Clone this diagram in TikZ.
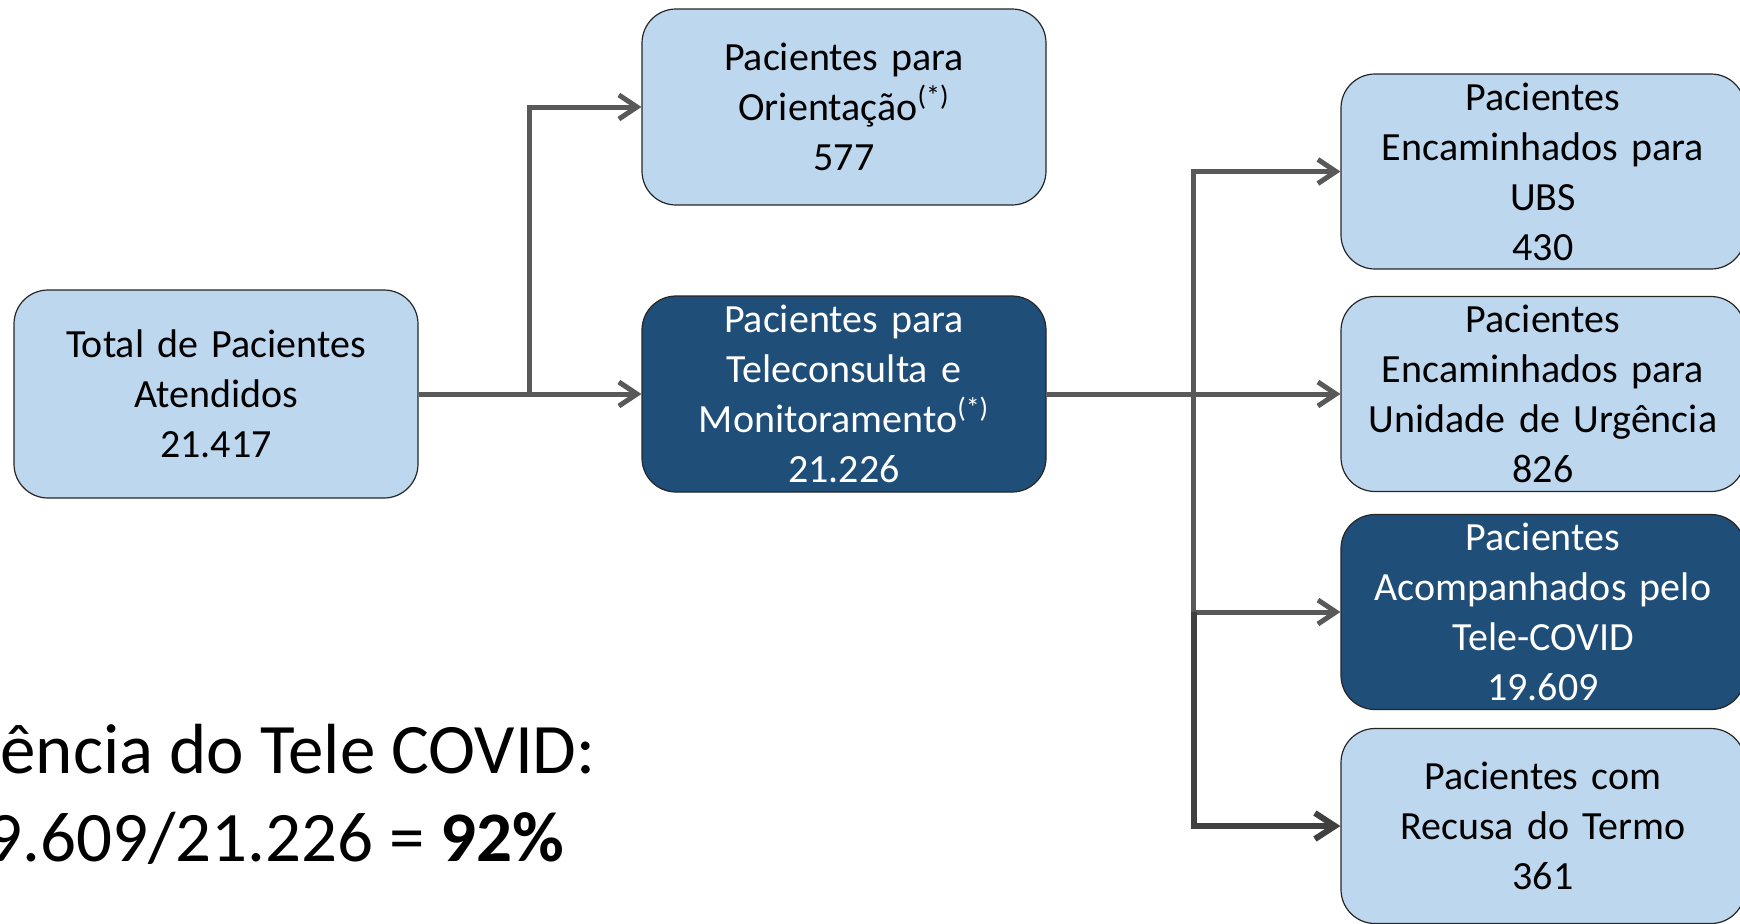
\documentclass[tikz,border=0pt]{standalone}
\usepackage{fontspec}
\setmainfont{Carlito}
\usetikzlibrary{arrows.meta}
\definecolor{lightbox}{HTML}{BDD7EE}
\definecolor{darkbox}{HTML}{1F4E79}
\definecolor{conn}{HTML}{595959}
\definecolor{connd}{HTML}{404040}
\tikzset{
  box/.style={rounded corners=17pt, draw=black!85, line width=0.6pt, align=center,
    text width=195pt, minimum width=202pt, inner sep=0pt,
    font=\fontsize{20pt}{25pt}\selectfont},
  lightb/.style={box, fill=lightbox, text=black},
  darkb/.style={box, fill=darkbox, text=white},
  link/.style={draw=conn, line width=2.5pt},
  arr/.style={link, -{Straight Barb[length=9pt,width=12pt]}},
  arrd/.style={draw=connd, line width=3pt, -{Straight Barb[length=10pt,width=13pt]}},
  big/.style={inner sep=0pt, font=\fontsize{35.5pt}{44pt}\selectfont}
}
\begin{document}
\begin{tikzpicture}[x=0.5pt,y=-0.5pt]
\useasboundingbox (0,0) rectangle (1740,923);
% left and middle boxes
\node[lightb, minimum height=104pt] (tot) at (216,394) {Total de Pacientes\\Atendidos\\21.417};
\node[lightb, minimum height=98pt] (ori) at (844,107) {Pacientes para\\Orienta\c{c}\~ao\textsuperscript{(*)}\\577};
\node[darkb, minimum height=98pt] (tel) at (844,394) {Pacientes para\\Teleconsulta e\\Monitoramento\textsuperscript{(*)}\\21.226};
% right boxes
\node[lightb, minimum height=97.5pt] (ubs) at (1543,171.5) {Pacientes\\Encaminhados para\\UBS\\430};
\node[lightb, minimum height=97.5pt] (urg) at (1543,394) {Pacientes\\Encaminhados para\\Unidade de Urg\^encia\\826};
\node[darkb, minimum height=97.5pt] (aco) at (1543,612) {Pacientes\\Acompanhados pelo\\Tele-COVID\\19.609};
\node[lightb, minimum height=97.5pt] (rec) at (1543,826) {Pacientes com\\Recusa do Termo\\361};
% connectors
\coordinate (j1) at (529,394);
\coordinate (j2) at (1193,394);
\coordinate (j3) at (1194,612);
\draw[link] (tot.east) -- (j1);
\draw[arr] (j1) -- (tel.west);
\draw[arr] (j1) |- (ori.west);
\draw[link] (tel.east) -- (j2);
\draw[arr] (j2) |- (ubs.west);
\draw[arr] (j2) -- (urg.west);
\draw[arr] (j2) |- (aco.west);
\draw[arrd] (j3) |- (rec.west);
% bottom text
\node[big, anchor=base west] (t1) at (0,773) {ência do Tele COVID:};
\node[big, anchor=base east] (t2) at (565,861) {9.609/21.226 = \textbf{92\%}};
\end{tikzpicture}
\end{document}
